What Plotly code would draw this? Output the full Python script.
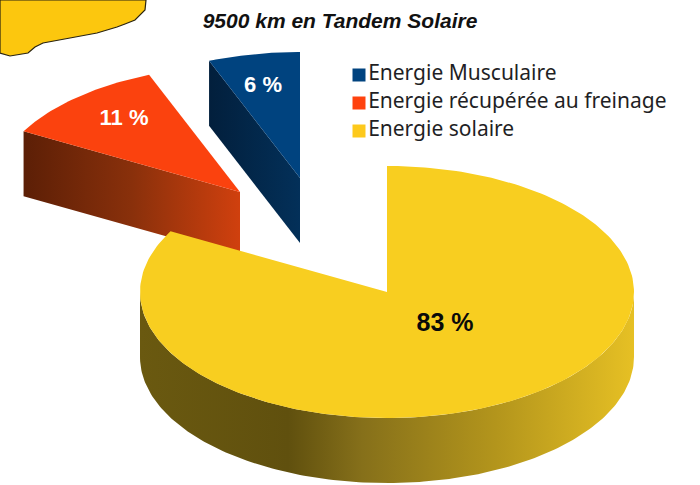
import numpy as np
import plotly.graph_objects as go

# Data
categories = ["Energie Musculaire", "Energie récupérée au freinage", "Energie solaire"]
values = [6, 11, 83]
title = "9500 km en Tandem Solaire"

# Styles / layout
top_colors = ["#00437f", "#fb420e", "#f8ce20"]
apexes = [(300, 178), (240, 192), (387, 292)]
label_pos = [(263, 86), (124, 119), (445, 325)]
label_colors = ["#ffffff", "#ffffff", "#0a0a0a"]
label_sizes = [22, 22, 25]
RX, RY, DEPTH = 247, 126, 65
legend_x = 359
legend_y = [75, 103, 131]

fig = go.Figure()


def pt(apex, deg):
    a = np.radians(deg)
    return apex[0] + RX * np.cos(a), apex[1] - RY * np.sin(a)


def add_poly(xs, ys, **kw):
    fig.add_trace(go.Scatter(x=list(xs), y=list(ys), mode="lines", fill="toself",
                             hoverinfo="skip", showlegend=False, **kw))


# sector angles: counter-clockwise from 12 o'clock
cum = np.cumsum([0] + values) / sum(values) * 360
starts = 90 + cum[:-1]
ends = 90 + cum[1:]

# cut faces of the two pulled sectors
wall_scales = {
    0: [[0, "#021f3c"], [1, "#033059"]],
    1: [[0, "#5c1f06"], [0.5, "#89300b"], [1, "#d0400e"]],
}
for i, face_deg in ((1, ends[1]), (0, ends[0])):
    face_deg = ends[i] if i == 1 else starts[i] + values[i] / sum(values) * 360
    ax, ay = apexes[i]
    ox, oy = pt(apexes[i], face_deg)
    fig.add_trace(go.Scatter(
        x=[ox, ax, ax, ox, ox], y=[oy, ay, ay + DEPTH, oy + DEPTH, oy],
        mode="lines", fill="toself", line=dict(width=0), hoverinfo="skip", showlegend=False,
        fillgradient=dict(type="horizontal", colorscale=wall_scales[i])))

# top faces of pulled sectors
for i in (1, 0):
    th = np.linspace(starts[i], ends[i], 40)
    xs, ys = pt(apexes[i], th)
    add_poly(np.r_[apexes[i][0], xs, apexes[i][0]], np.r_[apexes[i][1], ys, apexes[i][1]],
             fillcolor=top_colors[i], line=dict(width=0))

# outer wall of the main sector
th = np.linspace(180, 360, 180)
xs, ys = pt(apexes[2], th)
fig.add_trace(go.Scatter(
    x=np.r_[xs, xs[::-1], xs[0]], y=np.r_[ys, ys[::-1] + DEPTH, ys[0]],
    mode="lines", fill="toself", line=dict(width=0), hoverinfo="skip", showlegend=False,
    fillgradient=dict(type="horizontal", colorscale=[
        [0, "#6a5910"], [0.3, "#60500e"], [0.45, "#86701a"], [0.72, "#b3951c"], [1, "#e6c024"]])))

# top face of the main sector
th = np.linspace(starts[2], ends[2], 240)
xs, ys = pt(apexes[2], th)
add_poly(np.r_[apexes[2][0], xs, apexes[2][0]], np.r_[apexes[2][1], ys, apexes[2][1]],
         fillcolor=top_colors[2], line=dict(width=0))

# percent labels
for i, v in enumerate(values):
    fig.add_trace(go.Scatter(
        x=[label_pos[i][0]], y=[label_pos[i][1]], mode="text", text=[f"{v} %"],
        textfont=dict(family="Liberation Sans", size=label_sizes[i], color=label_colors[i], weight="bold"),
        hoverinfo="skip", showlegend=False))

# legend keys and labels
fig.add_trace(go.Scatter(
    x=[legend_x] * 3, y=legend_y, mode="markers+text", text=categories,
    textposition="middle right",
    marker=dict(symbol="square", size=13, color=["#00437f", "#ff420e", "#fdc91c"]),
    textfont=dict(family="Noto Sans", size=21, color="#1f1f25"),
    hoverinfo="skip", showlegend=False))

# torn paper decoration, top left corner
blob = ("M0,0 L146,0 L145,10 L135,20 L125,24 L117,27 L97,33 L70,38 L43,43 L35,47 "
        "L28,53 L10,56 L0,53 Z")

fig.update_layout(
    width=700, height=485, margin=dict(l=0, r=0, t=0, b=0),
    paper_bgcolor="white", plot_bgcolor="white", showlegend=False,
    xaxis=dict(range=[0, 700], visible=False, fixedrange=True),
    yaxis=dict(range=[485, 0], visible=False, fixedrange=True),
    shapes=[dict(type="path", path=blob, fillcolor="#fcc70e", line=dict(color="#2a2410", width=1.2), layer="below")],
    title=dict(text=title, x=340 / 700, y=1 - 21 / 485, xanchor="center", yanchor="middle",
               font=dict(family="Liberation Sans", size=21, color="#111111", weight="bold", style="italic")),
)
fig.write_html("out.html", post_script="document.body.style.margin='0';document.documentElement.style.overflow='hidden';",
               config={"displayModeBar": False})
